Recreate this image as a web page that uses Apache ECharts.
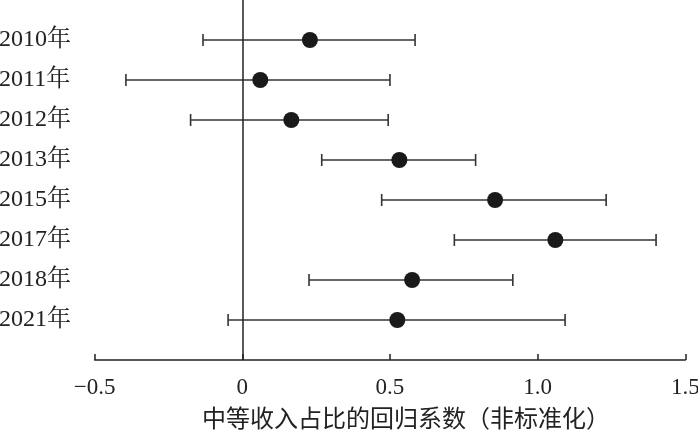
<!DOCTYPE html>
<html>
<head>
<meta charset="utf-8">
<script src="https://cdn.jsdelivr.net/npm/echarts@6/dist/echarts.min.js"></script>
<style>
html,body{margin:0;padding:0;background:#fff;}
#chart{width:698px;height:431px;}
</style>
</head>
<body>
<div id="chart"></div>
<script>
var categories = ['2010年','2011年','2012年','2013年','2015年','2017年','2018年','2021年'];
var coef  = [0.229, 0.061, 0.166, 0.532, 0.856, 1.060, 0.575, 0.525];
var lower = [-0.133, -0.394, -0.175, 0.269, 0.472, 0.718, 0.226, -0.048];
var upper = [0.585, 0.500, 0.494, 0.790, 1.232, 1.401, 0.916, 1.093];
var xTickValues = [-0.5, 0, 0.5, 1.0, 1.5];
var xTickLabels = ['\u22120.5', '0', '0.5', '1.0', '1.5'];
var xTitle = '中等收入占比的回归系数（非标准化）';

var fontFam = "'Liberation Serif', 'Noto Serif CJK SC', 'Noto Sans CJK SC', serif";
var ink = '#222';

var chart = echarts.init(document.getElementById('chart'), null, {renderer: 'canvas'});

var errData = categories.map(function (c, i) { return [i, lower[i], upper[i]]; });
var dotData = categories.map(function (c, i) { return [coef[i], i]; });

var option = {
  backgroundColor: '#fff',
  animation: false,
  grid: {left: 94.6, right: 12.7, top: 0, bottom: 71, containLabel: false, outerBoundsMode: 'none'},
  xAxis: {
    type: 'value',
    min: -0.5, max: 1.5, interval: 0.5,
    splitLine: {show: false},
    axisLine: {show: true, onZero: false, lineStyle: {color: ink, width: 1.5}},
    axisTick: {show: true, inside: true, length: 6, lineStyle: {color: ink, width: 1.5}},
    axisLabel: {
      margin: 16,
      fontFamily: fontFam, fontSize: 23, color: ink,
      formatter: function (v) {
        for (var k = 0; k < xTickValues.length; k++) {
          if (Math.abs(xTickValues[k] - v) < 1e-9) return xTickLabels[k];
        }
        return '';
      }
    },
    name: xTitle,
    nameLocation: 'middle',
    nameGap: 46,
    nameTextStyle: {fontFamily: "'Noto Sans CJK SC', sans-serif", fontSize: 24, color: ink, padding: [0, 0, 0, 32]}
  },
  yAxis: {
    type: 'value',
    inverse: true,
    min: -1, max: 8, interval: 1,
    splitLine: {show: false},
    axisLine: {show: false},
    axisTick: {show: false},
    axisLabel: {
      margin: 95.5,
      align: 'left',
      fontFamily: fontFam, fontSize: 24, color: ink,
      formatter: function (v) {
        return (v >= 0 && v < categories.length && Math.round(v) === v) ? categories[v] : '';
      }
    }
  },
  series: [
    {
      type: 'custom',
      data: errData,
      renderItem: function (params, api) {
        var idx = api.value(0);
        var lo = api.coord([api.value(1), idx]);
        var hi = api.coord([api.value(2), idx]);
        var cap = 6;
        var style = {stroke: '#333', lineWidth: 1.6, fill: null};
        return {
          type: 'group',
          children: [
            {type: 'line', shape: {x1: lo[0], y1: lo[1], x2: hi[0], y2: hi[1]}, style: style},
            {type: 'line', shape: {x1: lo[0], y1: lo[1] - cap, x2: lo[0], y2: lo[1] + cap}, style: style},
            {type: 'line', shape: {x1: hi[0], y1: hi[1] - cap, x2: hi[0], y2: hi[1] + cap}, style: style}
          ]
        };
      },
      encode: {x: [1, 2], y: 0},
      z: 2,
      markLine: {
        silent: true,
        symbol: 'none',
        label: {show: false},
        lineStyle: {color: ink, width: 1.5, type: 'solid'},
        data: [{xAxis: 0}]
      }
    },
    {
      type: 'scatter',
      data: dotData,
      symbol: 'circle',
      symbolSize: 16,
      itemStyle: {color: '#1a1a1a', opacity: 1},
      z: 3
    }
  ]
};
chart.setOption(option);
</script>
</body>
</html>
